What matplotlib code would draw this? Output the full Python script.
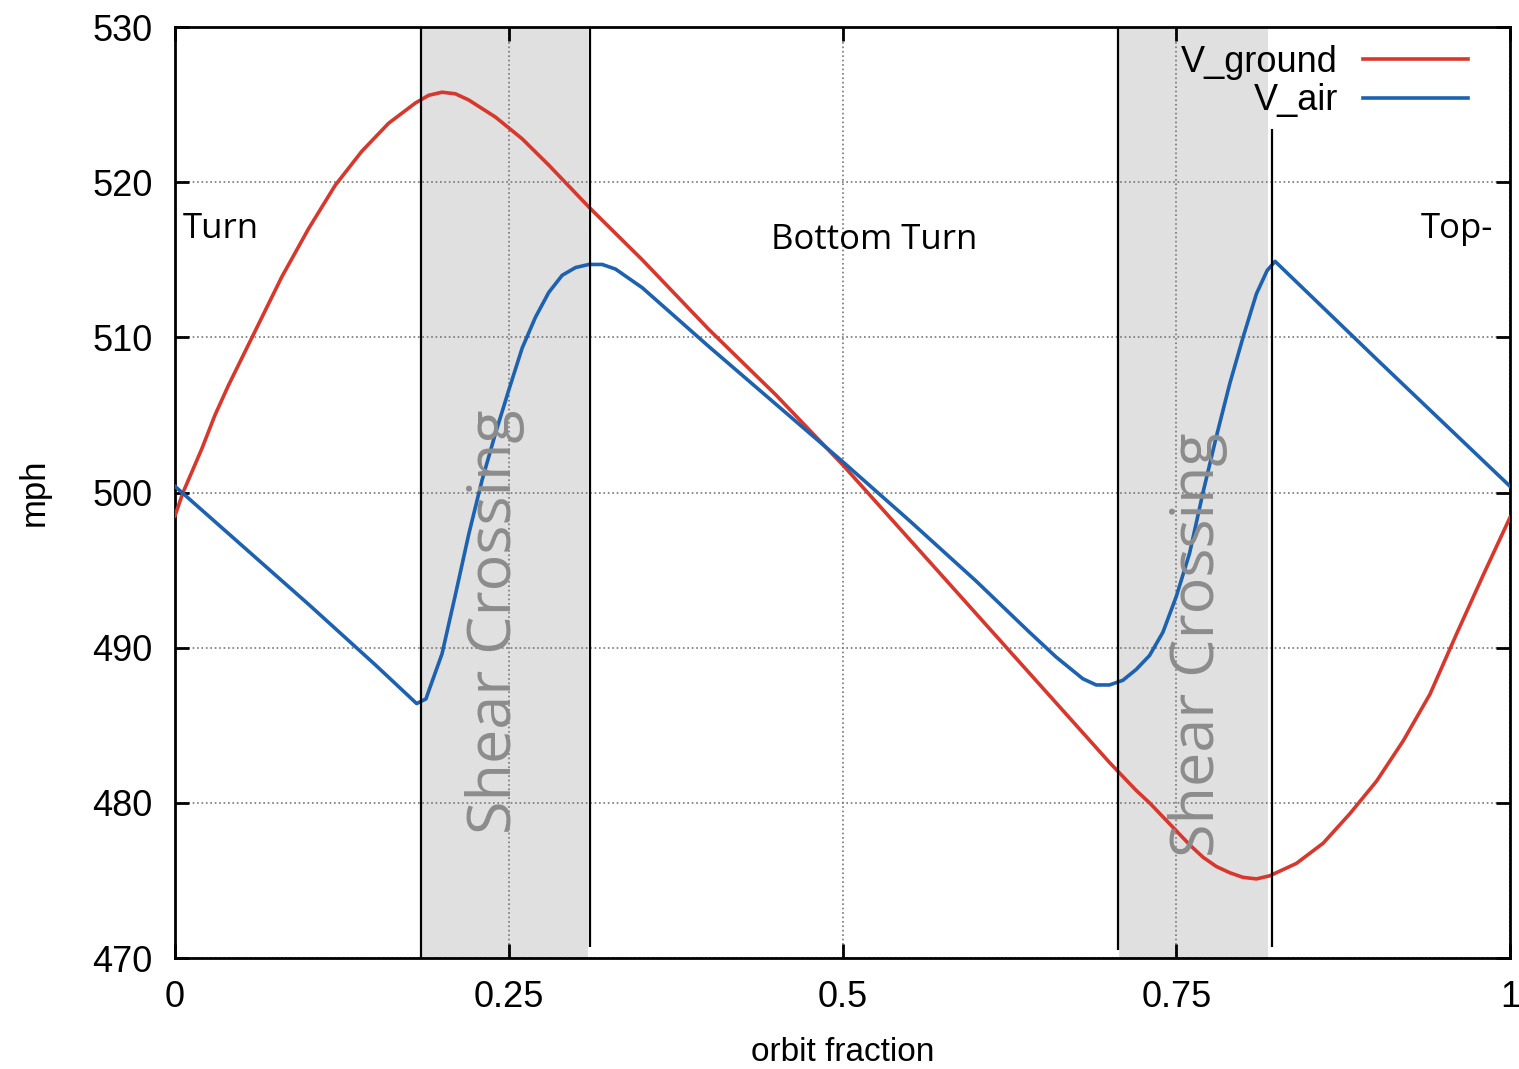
import numpy as np
import matplotlib
matplotlib.use("Agg")
import matplotlib.pyplot as plt

# orbit fraction sample points
x_ground = [0.00, 0.006, 0.02, 0.03, 0.04, 0.06, 0.08, 0.10, 0.12, 0.14, 0.16, 0.18, 0.19,
            0.20, 0.21, 0.22, 0.24, 0.26, 0.28, 0.30, 0.31, 0.35, 0.40, 0.45, 0.50,
            0.55, 0.60, 0.65, 0.70, 0.72, 0.73, 0.74, 0.75, 0.76, 0.77, 0.78, 0.79, 0.80, 0.81,
            0.82, 0.84, 0.86, 0.88, 0.90, 0.92, 0.94, 0.96, 0.98, 1.00]
v_ground = [498.5, 500.0, 502.8, 505.0, 506.9, 510.4, 513.9, 517.0, 519.8, 522.0, 523.8, 525.1, 525.6,
            525.8, 525.7, 525.3, 524.2, 522.8, 521.1, 519.3, 518.4, 515.0, 510.5, 506.3, 501.8,
            497.0, 492.2, 487.4, 482.6, 480.8, 480.0, 479.1, 478.2, 477.3, 476.5, 475.9, 475.5, 475.2, 475.1,
            475.3, 476.1, 477.4, 479.3, 481.4, 484.0, 487.0, 490.9, 494.7, 498.4]

x_air = [0.00, 0.05, 0.10, 0.15, 0.181, 0.188, 0.19, 0.20, 0.21, 0.22, 0.23, 0.24, 0.25,
         0.26, 0.27, 0.28, 0.29, 0.30, 0.31, 0.32, 0.33, 0.35, 0.40, 0.45, 0.50,
         0.55, 0.60, 0.64, 0.66, 0.68, 0.69, 0.70, 0.71, 0.72, 0.73, 0.74, 0.75,
         0.76, 0.77, 0.78, 0.79, 0.80, 0.81, 0.818, 0.824, 0.90, 1.00]
v_air = [500.4, 496.6, 492.8, 488.9, 486.4, 486.7, 487.2, 489.6, 493.4, 497.3, 500.8, 503.8, 506.6,
         509.3, 511.3, 512.9, 514.0, 514.5, 514.7, 514.7, 514.4, 513.2, 509.4, 505.7, 502.0,
         498.2, 494.3, 491.0, 489.4, 488.0, 487.6, 487.6, 487.9, 488.6, 489.5, 491.0, 493.3,
         496.1, 500.0, 503.6, 507.0, 510.0, 512.8, 514.3, 514.9, 508.6, 500.4]

# shear crossing bands and their boundary markers
bands = [(0.185, 0.309), (0.707, 0.819)]
marker_x = [0.184, 0.311, 0.706, 0.822]
marker_lo = [470.0, 470.7, 470.5, 470.7]
marker_hi = [530.0, 530.0, 530.0, 523.4]

phase_labels = ["Turn", "Bottom Turn", "Top-"]
phase_x = [0.006, 0.524, 0.987]
phase_y = [517.0, 516.3, 517.0]

xticks = [0, 0.25, 0.5, 0.75, 1]
xticklabels = ["0", "0.25", "0.5", "0.75", "1"]
yticks = [470, 480, 490, 500, 510, 520, 530]

fig = plt.figure(figsize=(15.19, 10.69), dpi=100)
ax = fig.add_axes([0.1152, 0.1038, 0.8789, 0.8709])

for a, b in bands:
    ax.axvspan(a, b, color="#e0e0e0", lw=0, zorder=0)

ax.grid(True, linestyle=":", color="#777777", lw=1.2, zorder=1)
ax.set_axisbelow(True)

ax.plot(x_ground, v_ground, color="#d8372b", lw=2.6, label="V_ground", zorder=3)
ax.plot(x_air, v_air, color="#1d62b0", lw=2.6, label="V_air", zorder=3)

ax.vlines(marker_x, marker_lo, marker_hi, color="black", lw=1.6, zorder=4)

for t, xx, yy in zip(phase_labels, phase_x, phase_y):
    ha = "left" if xx < 0.1 else ("right" if xx > 0.9 else "center")
    ax.text(xx, yy, t, ha=ha, va="center", fontsize=25, family="Open Sans", zorder=5)

ax.text(0.240, 491.7, "Shear Crossing", rotation=90, ha="center", va="center",
        fontsize=44, family="Open Sans", color="#8c8c8c", zorder=5)
ax.text(0.766, 490.2, "Shear Crossing", rotation=90, ha="center", va="center",
        fontsize=44, family="Open Sans", color="#8c8c8c", zorder=5)

ax.set_xlim(0, 1)
ax.set_ylim(470, 530)
ax.set_xticks(xticks)
ax.set_xticklabels(xticklabels)
ax.set_yticks(yticks)
ax.tick_params(direction="in", length=10, width=2, top=True, right=True,
               labelsize=26, pad=16)
for lab in ax.get_xticklabels() + ax.get_yticklabels():
    lab.set_family("Liberation Sans")
for s in ax.spines.values():
    s.set_linewidth(2)

ax.set_xlabel("orbit fraction", fontsize=24, family="Liberation Sans", labelpad=16)
ax.set_ylabel("mph", fontsize=25, family="Liberation Sans", labelpad=30)

leg = ax.legend(loc="upper right", frameon=False, markerfirst=False,
                prop={"family": "Liberation Sans", "size": 26},
                handlelength=2.9, handletextpad=0.7, labelspacing=0.1,
                borderaxespad=0.4, bbox_to_anchor=(0.99, 1.012))
for t in leg.get_texts():
    t.set_ha("right")

fig.savefig("out.png", dpi=100)
